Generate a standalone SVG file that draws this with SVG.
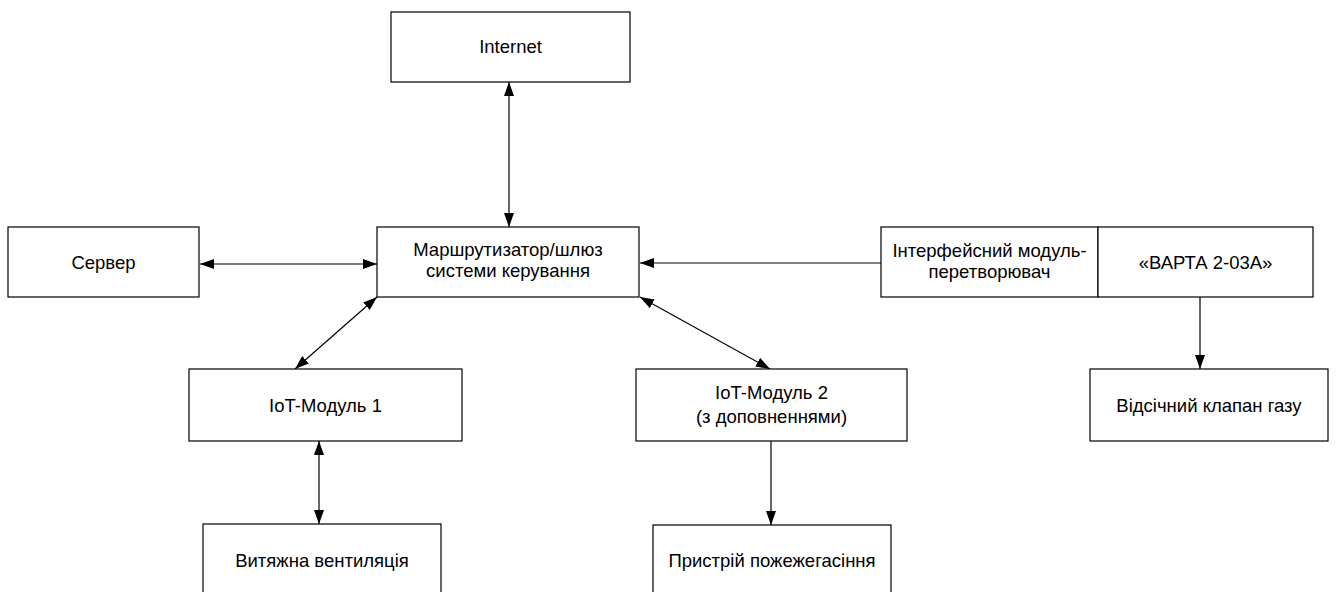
<svg xmlns="http://www.w3.org/2000/svg" width="1336" height="592" viewBox="0 0 1336 592">
<style>
.box{fill:#fff;stroke:#000;stroke-width:1.2}
.t{font-family:"Liberation Sans",Arial,sans-serif;font-size:18.5px;fill:#000;text-anchor:middle}
.c{fill:none;stroke:#000;stroke-width:1.2}
</style>
<defs>
<marker id="ah" viewBox="0 0 14 10" refX="14" refY="5" markerWidth="14" markerHeight="10" markerUnits="userSpaceOnUse" orient="auto-start-reverse">
<path d="M0,0 L14,5 L0,10 z" fill="#000"/>
</marker>
</defs>
<rect width="1336" height="592" fill="#fff"/>
<g id="connectors">
<line class="c" x1="509" y1="82" x2="509" y2="227" marker-start="url(#ah)" marker-end="url(#ah)"/>
<line class="c" x1="200" y1="264" x2="377" y2="264" marker-start="url(#ah)" marker-end="url(#ah)"/>
<line class="c" x1="881" y1="263" x2="640" y2="263" marker-end="url(#ah)"/>
<line class="c" x1="377" y1="297" x2="295" y2="369" marker-start="url(#ah)" marker-end="url(#ah)"/>
<line class="c" x1="640" y1="297" x2="770" y2="369" marker-start="url(#ah)" marker-end="url(#ah)"/>
<line class="c" x1="319" y1="441" x2="319" y2="524" marker-start="url(#ah)" marker-end="url(#ah)"/>
<line class="c" x1="771" y1="441" x2="771" y2="525" marker-end="url(#ah)"/>
<line class="c" x1="1200" y1="297" x2="1200" y2="369" marker-end="url(#ah)"/>
</g>
<g id="internet"><rect class="box" x="391" y="12" width="239" height="70"/><text class="t" x="510.5" y="53">Internet</text></g>
<g id="server"><rect class="box" x="8" y="227" width="191" height="70"/><text class="t" x="103.5" y="269">Сервер</text></g>
<g id="router"><rect class="box" x="377" y="227" width="262" height="70"/><text class="t" x="508" y="256">Маршрутизатор/шлюз</text><text class="t" x="508" y="277">системи керування</text></g>
<g id="interface"><rect class="box" x="881" y="227" width="217" height="70"/><text class="t" x="989.5" y="257">Інтерфейсний модуль-</text><text class="t" x="989.5" y="278">перетворювач</text></g>
<g id="varta"><rect class="box" x="1098" y="227" width="215" height="70"/><text class="t" x="1205.5" y="269">«ВАРТА 2-03А»</text></g>
<g id="iot1"><rect class="box" x="189" y="369" width="273" height="72"/><text class="t" x="325.5" y="412">IoT-Модуль 1</text></g>
<g id="iot2"><rect class="box" x="636" y="369" width="271" height="72"/><text class="t" x="771.5" y="399">IoT-Модуль 2</text><text class="t" x="771.5" y="423">(з доповненнями)</text></g>
<g id="valve"><rect class="box" x="1090" y="369" width="238" height="72"/><text class="t" x="1209" y="412">Відсічний клапан газу</text></g>
<g id="vent"><rect class="box" x="203" y="524" width="238" height="80"/><text class="t" x="322" y="567">Витяжна вентиляція</text></g>
<g id="fire"><rect class="box" x="653" y="525" width="238" height="80"/><text class="t" x="772" y="567">Пристрій пожежегасіння</text></g>
</svg>
